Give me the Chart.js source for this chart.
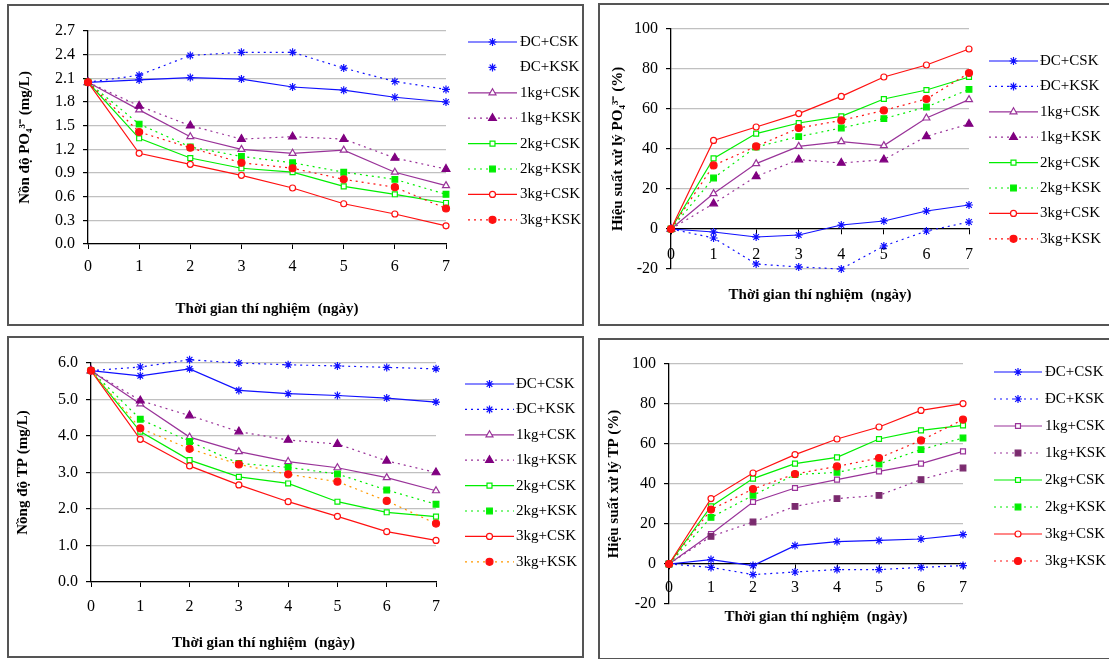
<!DOCTYPE html>
<html>
<head>
<meta charset="utf-8">
<script src="https://cdn.jsdelivr.net/npm/chart.js@4.4.1/dist/chart.umd.min.js"></script>
<style>
body { margin: 0; background: #fff; width: 1109px; height: 659px; overflow: hidden; position: relative; }
.panel { position: absolute; border: 2px solid #555; box-sizing: border-box; background: #fff; }
.panel canvas { position: absolute; left: 0; top: 0; }
</style>
</head>
<body>
<div class="panel" style="left:7px;top:4px;width:577px;height:322px"><canvas id="c1" width="573" height="318"></canvas></div>
<div class="panel" style="left:598px;top:3px;width:513px;height:323px"><canvas id="c2" width="509" height="319"></canvas></div>
<div class="panel" style="left:7px;top:336px;width:577px;height:322px"><canvas id="c3" width="573" height="318"></canvas></div>
<div class="panel" style="left:598px;top:338px;width:513px;height:322px"><canvas id="c4" width="509" height="318"></canvas></div>
<script>
const days = ['0', '1', '2', '3', '4', '5', '6', '7'];
const seriesNames = ['ĐC+CSK', 'ĐC+KSK', '1kg+CSK', '1kg+KSK', '2kg+CSK', '2kg+KSK', '3kg+CSK', '3kg+KSK'];
const xTitle = 'Thời gian thí nghiệm  (ngày)';

// nồng độ PO4 (mg/L)
const po4Conc = [
  [2.05, 2.08, 2.11, 2.09, 1.99, 1.95, 1.86, 1.80],
  [2.05, 2.14, 2.39, 2.43, 2.43, 2.23, 2.06, 1.96],
  [2.05, 1.70, 1.36, 1.20, 1.15, 1.19, 0.91, 0.74],
  [2.05, 1.75, 1.50, 1.33, 1.36, 1.33, 1.09, 0.95],
  [2.05, 1.34, 1.09, 0.96, 0.91, 0.73, 0.63, 0.52],
  [2.05, 1.52, 1.23, 1.11, 1.03, 0.91, 0.82, 0.63],
  [2.05, 1.15, 1.01, 0.87, 0.71, 0.51, 0.38, 0.23],
  [2.05, 1.42, 1.22, 1.03, 0.96, 0.82, 0.72, 0.45]
];
// hiệu suất xử lý PO4 (%)
const po4Eff = [
  [0, -1.5, -4, -3, 2, 4, 9, 12],
  [0, -4.5, -17.5, -19, -20, -8.5, -1, 3.5],
  [0, 17.7, 32.7, 41.3, 43.7, 41.7, 55.5, 64.7],
  [0, 12.7, 26.3, 34.7, 33, 34.7, 46.3, 52.5],
  [0, 35.3, 47.7, 53, 56.3, 65, 69.5, 76],
  [0, 25.5, 41, 46.2, 50.5, 55.2, 61, 69.8],
  [0, 44.3, 51, 57.7, 66.3, 76, 82, 90],
  [0, 31.8, 41.3, 50.5, 54.3, 59.3, 65, 78]
];
// nồng độ TP (mg/L)
const tpConc = [
  [5.79, 5.65, 5.84, 5.25, 5.16, 5.11, 5.04, 4.93],
  [5.79, 5.89, 6.09, 6.00, 5.95, 5.92, 5.88, 5.84],
  [5.79, 4.88, 3.97, 3.57, 3.30, 3.13, 2.86, 2.50],
  [5.79, 4.97, 4.56, 4.12, 3.89, 3.78, 3.32, 3.00],
  [5.79, 4.12, 3.34, 2.88, 2.70, 2.20, 1.91, 1.79],
  [5.79, 4.46, 3.85, 3.25, 3.14, 2.96, 2.52, 2.13],
  [5.79, 3.91, 3.18, 2.66, 2.20, 1.80, 1.38, 1.14],
  [5.79, 4.21, 3.65, 3.22, 2.95, 2.75, 2.22, 1.60]
];
// hiệu suất xử lý TP (%)
const tpEff = [
  [0, 2.2, -0.8, 9.2, 11.2, 11.8, 12.5, 14.7],
  [0, -1.7, -5.3, -4, -2.8, -2.8, -1.7, -0.8],
  [0, 15, 31, 38, 42.2, 46.3, 50.2, 56.3],
  [0, 13.8, 21, 28.8, 32.7, 34.3, 42.2, 48],
  [0, 28.8, 42.7, 50.2, 53.3, 62.5, 66.8, 69.3],
  [0, 23.3, 34.3, 44.7, 45.8, 50, 57.2, 63],
  [0, 32.7, 45.5, 54.7, 62.5, 68.5, 76.8, 80.2],
  [0, 27.2, 37.5, 45, 48.8, 53, 61.8, 72.2]
];

const serif = '"Liberation Serif", "Times New Roman", serif';
const BLUE = '#1010ff', PURPLE = '#993399', DPURPLE = '#800080', GREEN = '#00ee00', RED = '#ff1010', ORANGE = '#ff9900';
const DOT = [2, 4];

// line, dash, marker, marker border, marker fill, radius
function baseStyles() {
  return [
    { c: BLUE, d: [], m: 'star', pc: BLUE, pf: BLUE, r: 4 },
    { c: BLUE, d: DOT, m: 'star', pc: BLUE, pf: BLUE, r: 4 },
    { c: PURPLE, d: [], m: 'triangle', pc: PURPLE, pf: '#fff', r: 4 },
    { c: PURPLE, d: DOT, m: 'triangle', pc: DPURPLE, pf: DPURPLE, r: 4.5 },
    { c: GREEN, d: [], m: 'rect', pc: GREEN, pf: '#fff', r: 3.5 },
    { c: GREEN, d: DOT, m: 'rect', pc: GREEN, pf: GREEN, r: 4 },
    { c: RED, d: [], m: 'circle', pc: RED, pf: '#fff', r: 3 },
    { c: RED, d: DOT, m: 'circle', pc: RED, pf: RED, r: 3.5 }
  ];
}

function makeSets(values, styles) {
  return values.map((v, i) => {
    const s = styles[i];
    return {
      label: seriesNames[i], data: v,
      borderColor: s.c, backgroundColor: s.pf, borderWidth: 1.2, borderDash: s.d,
      pointStyle: s.m, pointRadius: s.r, pointBorderColor: s.pc, pointBackgroundColor: s.pf,
      pointBorderWidth: 1.2, tension: 0, clip: false, order: 10 - i
    };
  });
}

const sideLegend = {
  id: 'sideLegend',
  afterDraw(chart, args, o) {
    const ctx = chart.ctx;
    chart.data.datasets.forEach((ds, i) => {
      const y = o.y0 + i * o.step;
      ctx.save();
      if (!(o.noLine || []).includes(i)) {
        ctx.strokeStyle = ds.borderColor;
        ctx.lineWidth = 1.2;
        ctx.setLineDash(ds.borderDash);
        ctx.beginPath(); ctx.moveTo(o.x1, y); ctx.lineTo(o.x2, y); ctx.stroke();
      }
      ctx.setLineDash([]);
      ctx.strokeStyle = ds.pointBorderColor;
      ctx.fillStyle = ds.pointBackgroundColor;
      ctx.lineWidth = 1.2;
      Chart.helpers.drawPoint(ctx, { pointStyle: ds.pointStyle, radius: ds.pointRadius, rotation: 0, borderWidth: 1.2 }, (o.x1 + o.x2) / 2, y);
      ctx.fillStyle = '#000';
      ctx.font = '15px ' + serif;
      ctx.textBaseline = 'middle';
      ctx.fillText(ds.label, o.xt, y);
      ctx.restore();
    });
  }
};

function makeChart(id, values, styles, p) {
  new Chart(document.getElementById(id), {
    type: 'line',
    data: { labels: days, datasets: makeSets(values, styles) },
    plugins: [sideLegend],
    options: {
      responsive: false,
      animation: false,
      layout: { padding: { left: 0, top: p.top, right: p.right, bottom: p.bottom } },
      plugins: {
        legend: { display: false },
        tooltip: { enabled: false },
        sideLegend: p.legend
      },
      scales: {
        x: {
          type: 'category', offset: false, position: p.xPos,
          grid: { drawOnChartArea: false, drawTicks: true, tickLength: 5, tickColor: '#000' },
          border: { color: '#000', width: 1.3 },
          ticks: { color: '#000', font: { family: serif, size: 16 }, padding: p.xPad, maxRotation: 0, autoSkip: false },
          title: { display: true, text: xTitle, color: '#000', font: { family: serif, size: 15, weight: 'bold' }, padding: { top: 0, bottom: p.xTitlePad } },
          afterFit(s) { s.height = p.xH; }
        },
        y: {
          min: p.min, max: p.max,
          grid: { color: '#c0c0c0', lineWidth: 1.2, tickLength: 5, tickColor: '#000' },
          border: { color: '#000', width: 1.3 },
          ticks: { stepSize: p.step, color: '#000', font: { family: serif, size: 16 }, padding: 8,
                   callback: v => v.toFixed(p.dec) },
          title: { display: true, text: p.yTitle, color: '#000', font: { family: serif, size: 15, weight: 'bold' }, padding: { top: p.yTitlePad, bottom: 0 } },
          afterFit(s) { s.width = p.yW; }
        }
      }
    }
  });
}

const st1 = baseStyles();
makeChart('c1', po4Conc, st1, {
  top: 25, right: 136, bottom: 0, xPos: 'bottom', xH: 80, xPad: 8, xTitlePad: 6,
  min: 0, max: 2.7, step: 0.3, dec: 1, yW: 79, yTitlePad: 7,
  yTitle: 'Nồn độ PO₄³⁻ (mg/L)',
  legend: { x1: 459, x2: 508, xt: 511, y0: 36, step: 25.4, noLine: [1] }
});

const st2 = baseStyles();
makeChart('c2', po4Eff, st2, {
  top: 24, right: 140, bottom: 55, xPos: { y: 0 }, xH: 80, xPad: 11, xTitlePad: 5,
  min: -20, max: 100, step: 20, dec: 0, yW: 71, yTitlePad: 9,
  yTitle: 'Hiệu suất xử lý PO₄³⁻ (%)',
  legend: { x1: 389, x2: 438, xt: 440, y0: 56, step: 25.4 }
});

const st3 = baseStyles();
st3[7].c = ORANGE;
makeChart('c3', tpConc, st3, {
  top: 25, right: 146, bottom: 0, xPos: 'bottom', xH: 74, xPad: 10, xTitlePad: 4,
  min: 0, max: 6, step: 1, dec: 1, yW: 82, yTitlePad: 5,
  yTitle: 'Nồng độ TP (mg/L)',
  legend: { x1: 456, x2: 505, xt: 507, y0: 46, step: 25.4 }
});

const st4 = baseStyles();
st4[2] = { c: PURPLE, d: [], m: 'rect', pc: PURPLE, pf: '#fff', r: 3.5 };
st4[3] = { c: PURPLE, d: DOT, m: 'rect', pc: '#7a2a6e', pf: '#7a2a6e', r: 4 };
makeChart('c4', tpEff, st4, {
  top: 24, right: 146, bottom: 54, xPos: { y: 0 }, xH: 80, xPad: 9, xTitlePad: 18,
  min: -20, max: 100, step: 20, dec: 0, yW: 69, yTitlePad: 5,
  yTitle: 'Hiệu suất xử lý TP (%)',
  legend: { x1: 394, x2: 442, xt: 445, y0: 32, step: 27 }
});
</script>
</body>
</html>
